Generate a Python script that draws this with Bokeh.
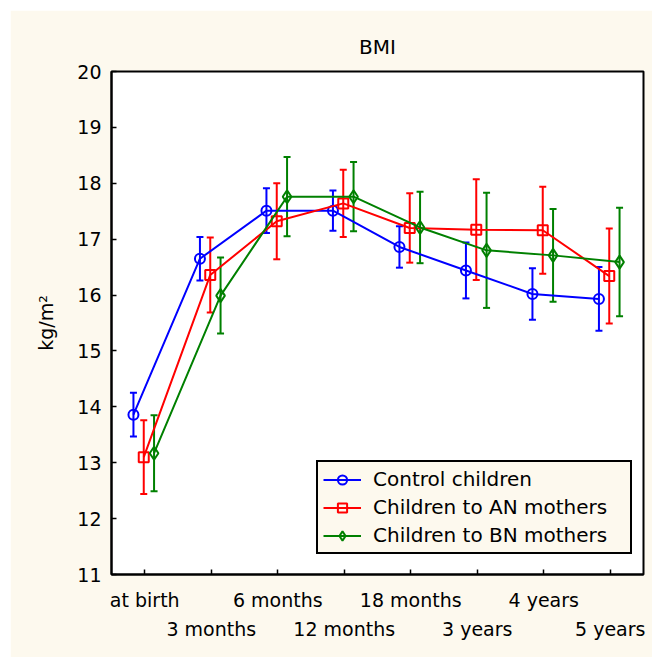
from bokeh.plotting import figure
from bokeh.models import (ColumnDataSource, Range1d, FixedTicker, LinearAxis,
                          Whisker, TeeHead, Legend, LegendItem)
from bokeh.transform import dodge
from bokeh.embed import file_html
from bokeh.resources import INLINE

# ---- data ----
categories = ["at birth", "3 months", "6 months", "12 months",
              "18 months", "3 years", "4 years", "5 years"]
series_names = ["Control children", "Children to AN mothers", "Children to BN mothers"]
control_mean = [13.86, 16.65, 17.51, 17.51, 16.86, 16.44, 16.02, 15.93]
control_err = [0.39, 0.39, 0.40, 0.36, 0.37, 0.50, 0.46, 0.57]
an_mean = [13.10, 16.36, 17.32, 17.64, 17.20, 17.17, 17.16, 16.34]
an_err = [0.66, 0.67, 0.68, 0.60, 0.62, 0.90, 0.78, 0.85]
bn_mean = [13.17, 15.99, 17.76, 17.76, 17.21, 16.80, 16.71, 16.59]
bn_err = [0.68, 0.68, 0.71, 0.62, 0.64, 1.03, 0.83, 0.97]
y_ticks = [11, 12, 13, 14, 15, 16, 17, 18, 19, 20]

# ---- style ----
CREAM = "#FDF9EE"
FONT = "DejaVu Sans"
colors = ["#0000FF", "#FF0000", "#008000"]
markers = ["circle", "square", "diamond"]
msizes = [10, 10, 13]
offsets = [-0.17, -0.015, 0.14]

xs = list(range(len(categories)))

p = figure(width=642, height=647, output_backend="svg", toolbar_location=None,
           x_range=Range1d(-0.5, len(categories) - 0.5),
           y_range=Range1d(min(y_ticks), max(y_ticks)),
           title="BMI")
p.margin = (10, 0, 0, 10)
p.min_border_left = 101
p.min_border_right = 9
p.min_border_top = 61
p.min_border_bottom = 83
p.background_fill_color = "white"
p.border_fill_color = CREAM
p.outline_line_color = "black"
p.outline_line_width = 2
p.outline_line_alpha = 1
p.xgrid.visible = False
p.ygrid.visible = False

p.title.align = "center"
p.title.text_font = FONT
p.title.text_font_size = "20px"
p.title.text_font_style = "normal"
p.title.text_color = "black"
p.title.standoff = 25

# y axis
ya = p.yaxis[0]
ya.ticker = FixedTicker(ticks=y_ticks)
ya.minor_tick_line_color = None
ya.major_tick_in = 5
ya.major_tick_out = 0
ya.major_tick_line_color = "black"
ya.major_tick_line_width = 1.5
ya.axis_line_color = "black"
ya.axis_line_width = 2
ya.major_label_text_font = FONT
ya.major_label_text_font_size = "19px"
ya.major_label_text_color = "black"
ya.major_label_standoff = 10
ya.axis_label = "kg/m²"
ya.axis_label_text_font = FONT
ya.axis_label_text_font_size = "19px"
ya.axis_label_text_font_style = "normal"
ya.axis_label_text_color = "black"
ya.axis_label_standoff = 17

# x axis, first row of labels
xa = p.xaxis[0]
xa.ticker = FixedTicker(ticks=xs)
xa.major_label_overrides = {i: (categories[i] if i % 2 == 0 else "") for i in xs}
xa.minor_tick_line_color = None
xa.major_tick_in = 5
xa.major_tick_out = 0
xa.major_tick_line_color = "black"
xa.major_tick_line_width = 1.5
xa.axis_line_color = "black"
xa.axis_line_width = 2
xa.major_label_text_font = FONT
xa.major_label_text_font_size = "19px"
xa.major_label_text_color = "black"
xa.major_label_standoff = 14

# second row of labels
odd = [i for i in xs if i % 2 == 1]
xa2 = LinearAxis(ticker=FixedTicker(ticks=odd),
                 major_label_overrides={i: categories[i] for i in odd})
xa2.axis_line_color = None
xa2.major_tick_line_color = None
xa2.minor_tick_line_color = None
xa2.major_label_text_font = FONT
xa2.major_label_text_font_size = "19px"
xa2.major_label_text_color = "black"
xa2.major_label_standoff = -2
p.add_layout(xa2, "below")

items = []
for name, mean, err, c, mk, ms, off in zip(
        series_names, [control_mean, an_mean, bn_mean],
        [control_err, an_err, bn_err], colors, markers, msizes, offsets):
    src = ColumnDataSource(dict(
        x=xs, mean=mean,
        upper=[m + e for m, e in zip(mean, err)],
        lower=[m - e for m, e in zip(mean, err)]))
    lr = p.line(x=dodge("x", off), y="mean", source=src, line_color=c, line_width=2)
    sr = p.scatter(x=dodge("x", off), y="mean", source=src, marker=mk, size=ms,
                   line_color=c, line_width=2, fill_color=None)
    w = Whisker(source=src, base=dodge("x", off), upper="upper", lower="lower",
                dimension="height", line_color=c, line_width=2,
                upper_head=TeeHead(size=7, line_color=c, line_width=2),
                lower_head=TeeHead(size=7, line_color=c, line_width=2))
    p.add_layout(w)
    items.append(LegendItem(label=name, renderers=[lr, sr]))

legend = Legend(items=items, location=(205, 20))
legend.label_text_font = FONT
legend.label_text_font_size = "20px"
legend.label_text_color = "black"
legend.glyph_width = 38
legend.glyph_height = 23
legend.label_height = 23
legend.label_width = 252
legend.label_standoff = 12
legend.spacing = 4
legend.padding = 5
legend.margin = 0
legend.background_fill_color = CREAM
legend.background_fill_alpha = 1
legend.border_line_color = "black"
legend.border_line_width = 2
legend.border_line_alpha = 1
p.add_layout(legend)

open("out.html", "w").write(file_html(p, INLINE))
